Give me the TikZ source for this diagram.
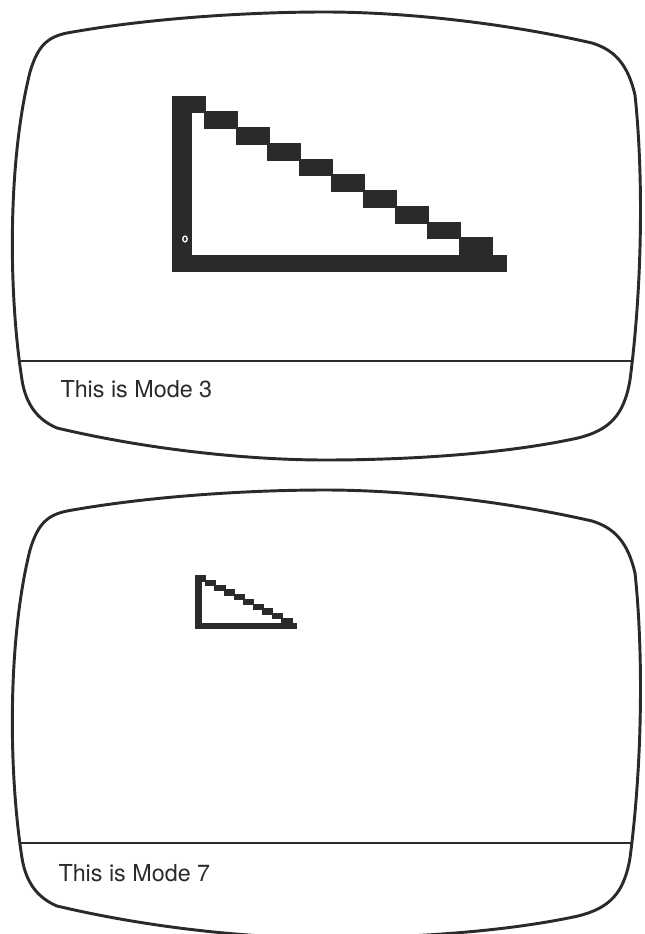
\documentclass[tikz,border=0pt]{standalone}
\usepackage{fontspec}
\newfontfamily\capfont{TeX Gyre Heros}
\definecolor{ink}{RGB}{42,42,42}

\tikzset{every picture/.style={line width=0.75pt}}
\tikzset{
  screen/.style={draw=ink, line width=2.2pt},
  divider/.style={draw=ink, line width=1.1pt},
  caption/.style={anchor=base west, inner sep=0pt, text=ink, font=\capfont\fontsize{17.5}{20}\selectfont},
  stairs/.style={fill=ink}
}

% outline of one monitor screen
\def\tvscreen{(67,33) .. controls (150,18) and (250,12) .. (325,12) .. controls (400,12) and (500,22) .. (592,43)
  .. controls (615,50) and (628,65) .. (635,95)
  .. controls (643,170) and (643,280) .. (630,380)
  .. controls (624,415) and (610,430) .. (578,438)
  .. controls (500,455) and (400,460) .. (325,460)
  .. controls (250,460) and (150,450) .. (57,428)
  .. controls (38,420) and (26,405) .. (22,380)
  .. controls (8,290) and (8,160) .. (30,72)
  .. controls (38,45) and (48,37) .. cycle}

% the stepped triangle
\newcommand\drawstairs{%
  \fill[stairs] (0,0) rectangle (20,176.3);
  \fill[stairs] (0,159.3) rectangle (335,176.3);
  \foreach \i in {0,...,9} {\fill[stairs] (\i*31.9,\i*15.75) rectangle ++(34,17.7);}
}

\begin{document}
\begin{tikzpicture}[x=0.75pt,y=0.75pt,yscale=-1,xscale=1]
\useasboundingbox (0,0) rectangle (645,934);

%Shape: top screen
\draw [screen] \tvscreen ;
\begin{scope}
  \clip \tvscreen ;
  \draw [divider] (0,361) -- (645,361) ;
\end{scope}
%Shape: big staircase
\begin{scope}[shift={(171.7,95.7)}]
  \drawstairs
\end{scope}
\draw [white, line width=1pt] (185,239) ellipse (2.2 and 2.9) ;

%Shape: bottom screen
\begin{scope}[shift={(0,478)}]
  \draw [screen] \tvscreen ;
  \begin{scope}
    \clip \tvscreen ;
    \draw [divider] (0,365) -- (645,365) ;
  \end{scope}
\end{scope}
%Shape: small staircase
\begin{scope}[shift={(195.7,575.7)}, scale=0.3, stairs/.append style={draw=ink, line width=0.7pt}]
  \drawstairs
\end{scope}

% Text Node
\node [caption] (capthree) at (60,397) {This is Mode 3};
% Text Node
\node [caption] (capseven) at (58,881) {This is Mode 7};

\end{tikzpicture}
\end{document}
